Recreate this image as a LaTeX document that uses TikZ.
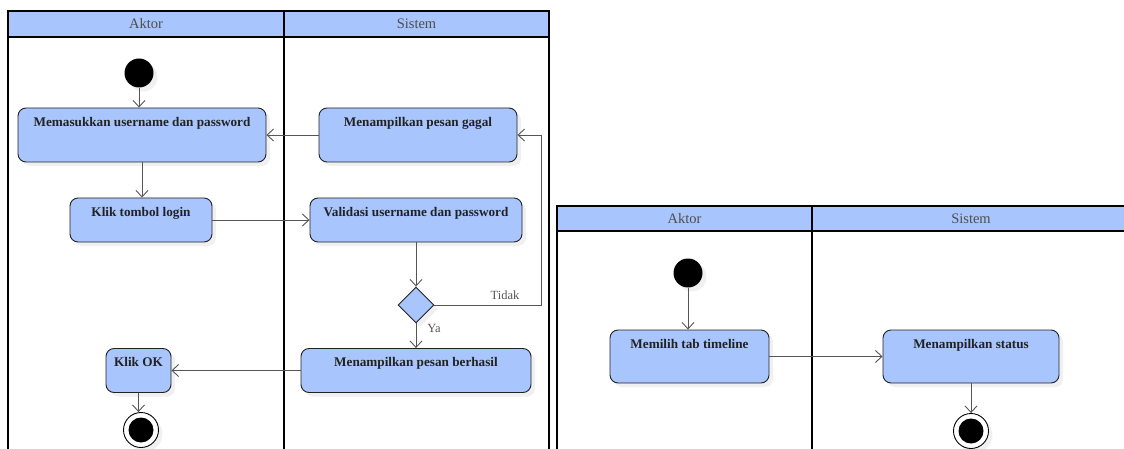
\documentclass[tikz,border=0pt]{standalone}
\usepackage{fontspec}
\setmainfont{Liberation Serif}
\usetikzlibrary{shapes.geometric,arrows.meta,shadows}
\definecolor{boxblue}{HTML}{A9C5FE}
\definecolor{edgegray}{HTML}{555555}
\definecolor{txt}{HTML}{222222}
\tikzset{
  lane/.style={draw=black,line width=1.4pt},
  lanehead/.style={draw=black,fill=boxblue,line width=1.4pt},
  lanetitle/.style={font=\fontsize{14.5}{16}\selectfont,text=txt!80!white,inner sep=0pt},
  shade/.style={drop shadow={opacity=0.12,shadow xshift=4pt,shadow yshift=-4pt}},
  actbox/.style={draw=txt,fill=boxblue,line width=0.9pt,rounded corners=8pt,shade,inner sep=0pt},
  boxtext/.style={font=\bfseries\fontsize{13.2}{15}\selectfont,text=txt,inner sep=0pt,anchor=north,yshift=-9.5pt},
  startnode/.style={circle,fill=black,minimum size=29pt,inner sep=0pt,shade},
  endnode/.style={circle,draw=black,fill=white,line width=0.9pt,minimum size=35pt,inner sep=0pt,shade},
  decision/.style={diamond,draw=txt,fill=boxblue,line width=0.9pt,minimum width=36pt,minimum height=36pt,inner sep=0pt,shade},
  flow/.style={draw=edgegray,line width=0.9pt,-{Straight Barb[length=6.5pt,width=12pt,line width=0.9pt]}},
  guard/.style={font=\fontsize{12.5}{14}\selectfont,text=edgegray,inner sep=0pt}
}
\newcommand{\actbox}[6]{% name, cx, cy, w, h, text
  \node[actbox,minimum width=#4pt,minimum height=#5pt,
        label={[boxtext]north:#6}] (#1) at (#2,#3) {};}
\begin{document}
\begin{tikzpicture}[x=1pt,y=-1pt]
\useasboundingbox (0,0) rectangle (1124,449);
% ---------- left diagram lanes ----------
\draw[lane] (8,37) -- (8,455);
\draw[lane] (284,37) -- (284,455);
\draw[lane] (549,37) -- (549,455);
\draw[lanehead] (8,11) rectangle (284,37);
\draw[lanehead] (284,11) rectangle (549,37);
\node[lanetitle] (t1) at (146,24) {Aktor};
\node[lanetitle] (t2) at (416.5,24) {Sistem};
% ---------- left diagram nodes ----------
\node[startnode] (s1) at (139,73) {};
\actbox{A}{142}{135}{248}{54}{Memasukkan username dan password}
\actbox{B}{418}{135}{198}{54}{Menampilkan pesan gagal}
\actbox{C}{141}{220}{142}{44}{Klik tombol login}
\actbox{D}{416}{220}{212}{44}{Validasi username dan password}
\node[decision] (dia) at (416,305) {};
\actbox{E}{416}{370.5}{230}{44}{Menampilkan pesan berhasil}
\actbox{F}{138.5}{370.5}{65}{44}{Klik OK}
\node[endnode] (end1) at (141,430) {};
\fill[black] (end1.center) circle (12.5pt);
\coordinate (fbc) at (541,305);
% ---------- left diagram flows ----------
\draw[flow] (s1.south) -- (s1.south |- A.north);
\draw[flow] (B.west) -- (A.east);
\draw[flow] (A.south) -- (A.south |- C.north);
\draw[flow] (C.east) -- (D.west);
\draw[flow] (D.south) -- (dia.north);
\draw[flow] (dia.east) -- (fbc) |- (B.east);
\draw[flow] (dia.south) -- (E.north);
\draw[flow] (E.west) -- (F.east);
\draw[flow] (F.south) -- (F.south |- end1.north);
\node[guard] (tidak) at (505,295) {Tidak};
\node[guard] (ya) at (434,328) {Ya};
% ---------- right diagram lanes ----------
\draw[lane] (557,231) -- (557,455);
\draw[lane] (812,231) -- (812,455);
\draw[lanehead] (557,206) rectangle (1130,231);
\draw[lane] (812,206) -- (812,231);
\node[lanetitle] (t3) at (684.5,218.5) {Aktor};
\node[lanetitle] (t4) at (971,218.5) {Sistem};
% ---------- right diagram nodes ----------
\node[startnode] (s2) at (688,273) {};
\actbox{G}{689.5}{356.5}{159}{53}{Memilih tab timeline}
\actbox{H}{971}{356.5}{176}{53}{Menampilkan status}
\node[endnode] (end2) at (971,431) {};
\fill[black] (end2.center) circle (12.5pt);
% ---------- right diagram flows ----------
\draw[flow] (s2.south) -- (s2.south |- G.north);
\draw[flow] (G.east) -- (H.west);
\draw[flow] (H.south) -- (end2.north);
\end{tikzpicture}
\end{document}
